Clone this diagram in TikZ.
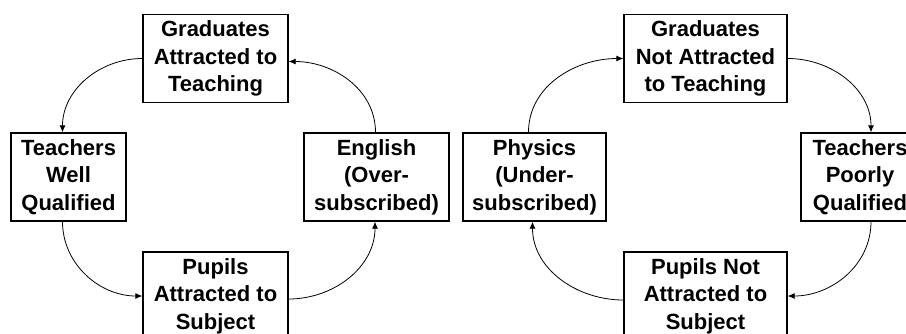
\documentclass[tikz,border=0pt]{standalone}
\usepackage{fontspec}
\setmainfont{Liberation Sans}
\usetikzlibrary{arrows.meta}

\begin{document}
\begin{tikzpicture}[x=1pt, y=-1pt,
    every node/.style={align=center, font=\fontsize{22}{27.5}\selectfont\bfseries},
    box/.style={draw, line width=1.3pt, inner sep=0pt, minimum height=88pt},
    flow/.style={-{Latex[length=7pt,width=6pt]}, line width=0.8pt}]

\useasboundingbox (0,0) rectangle (906,333);
\clip (0,0) rectangle (906,333);

% nodes --- left cycle
\node [box, minimum width=145pt] (gradA) at (215.5,58.5) {Graduates\\Attracted to\\Teaching};
\node [box, minimum width=115pt] (teachW) at (68.5,177) {Teachers\\Well\\Qualified};
\node [box, minimum width=145pt] (english) at (376.5,177) {English\\(Over-\\subscribed)};
\node [box, minimum width=145pt] (pupilsA) at (215.5,296) {Pupils\\Attracted to\\Subject};

% nodes --- right cycle
\node [box, minimum width=163pt] (gradN) at (705.5,58.5) {Graduates\\Not Attracted\\to Teaching};
\node [box, minimum width=143pt] (physics) at (534.5,177) {Physics\\(Under-\\subscribed)};
\node [box, minimum width=118pt] (teachP) at (860,177) {Teachers\\Poorly\\Qualified};
\node [box, minimum width=163pt] (pupilsN) at (705.5,296) {Pupils Not\\Attracted to\\Subject};

% arrows --- left
\draw [flow] (gradA.west) to[out=180, in=90] ([xshift=-6pt]teachW.north);
\draw [flow] ([xshift=-6pt]teachW.south) to[out=-90, in=180] (pupilsA.west);
\draw [flow] ([yshift=-3pt]pupilsA.east) to[out=0, in=-90] ([xshift=-1.5pt]english.south);
\draw [flow] ([xshift=-1pt]english.north) to[out=90, in=0] ([yshift=-3pt]gradA.east);

% arrows --- right
\draw [flow] ([xshift=-6pt]physics.north) to[out=90, in=180] (gradN.west);
\draw [flow] (gradN.east) to[out=0, in=90] ([xshift=11pt]teachP.north);
\draw [flow] ([xshift=11pt]teachP.south) to[out=-90, in=0] (pupilsN.east);
\draw [flow] ([yshift=-4pt]pupilsN.west) to[out=180, in=-90] ([xshift=-2pt]physics.south);

\end{tikzpicture}
\end{document}
